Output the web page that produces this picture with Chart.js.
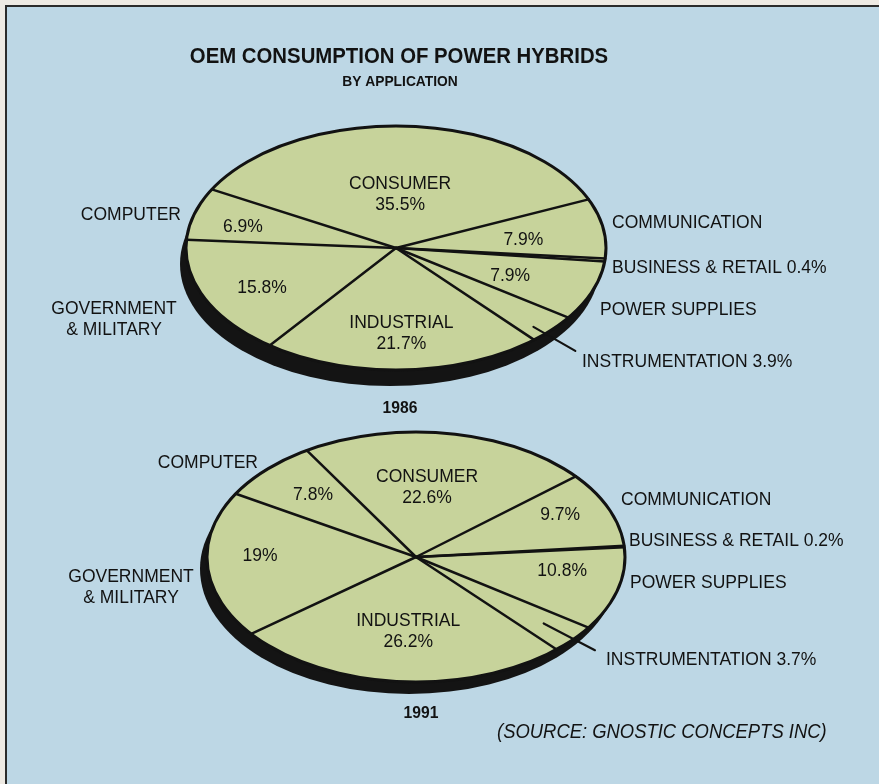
<!DOCTYPE html>
<html>
<head>
<meta charset="utf-8">
<title>OEM Consumption of Power Hybrids</title>
<script src="https://cdn.jsdelivr.net/npm/chart.js@4/dist/chart.umd.min.js"></script>
<style>
  html, body { margin: 0; padding: 0; background: #eeeae3; }
  #page { position: relative; width: 879px; height: 784px; overflow: hidden; }
  #panel {
    position: absolute; left: 5px; top: 5px; right: 0; bottom: 0;
    background: #bdd7e5;
    border-top: 2px solid #2b2b2b; border-left: 2px solid #2b2b2b;
  }
  canvas { position: absolute; left: 0; top: 0; }
</style>
</head>
<body>
<div id="page">
  <div id="panel"></div>
  <canvas id="pie1986" width="879" height="784"></canvas>
  <canvas id="pie1991" width="879" height="784"></canvas>
</div>
<script>
// Market segments, clockwise from the top
const categories = ['CONSUMER', 'COMMUNICATION', 'BUSINESS & RETAIL', 'POWER SUPPLIES',
                    'INSTRUMENTATION', 'INDUSTRIAL', 'GOVERNMENT & MILITARY', 'COMPUTER'];
// Share of OEM consumption, percent
const share1986 = [35.5, 7.9, 0.4, 7.9, 3.9, 21.7, 15.8, 6.9];
const share1991 = [22.6, 9.7, 0.2, 10.8, 3.7, 26.2, 19, 7.8];
const years = ['1986', '1991'];

const titleText = 'OEM CONSUMPTION OF POWER HYBRIDS';
const subtitleText = 'BY APPLICATION';
const sourceText = '(SOURCE: GNOSTIC CONCEPTS INC)';

const FONT = "'Liberation Sans', Arial, Helvetica, sans-serif";
const INK = '#121212';
const FACE = '#c7d39b';
const SHADOW = '#141414';

function drawText(ctx, str, x, y, font, align, sx) {
  ctx.save();
  ctx.font = font;
  ctx.fillStyle = INK;
  ctx.textAlign = align || 'center';
  ctx.textBaseline = 'middle';
  ctx.translate(x, y);
  ctx.scale(sx || 1, 1);
  ctx.fillText(str, 0, 0);
  ctx.restore();
}

// Geometry and label placement for each tilted pie
const pies = [
  {
    canvas: 'pie1986', data: share1986, year: years[0],
    cx: 396, cy: 248, rx: 210, ry: 122, rotation: -61.3,
    shadow: { dx: -6, dy: 16 },
    yearPos: { x: 400, y: 408 },
    inside: {
      0: { da: 0, r: 0.434, name: true },
      1: { da: 3, r: 0.61 },
      3: { da: 2.3, r: 0.59 },
      5: { da: 0, r: 0.706, name: true },
      6: { da: -2.6, r: 0.717 },
      7: { da: -3, r: 0.749 }
    },
    outside: [
      { i: 7, lines: ['COMPUTER'], x: 181, y: 215, align: 'right' },
      { i: 6, lines: ['GOVERNMENT', '& MILITARY'], x: 114, y: 309, align: 'center' },
      { i: 1, lines: ['COMMUNICATION'], x: 612, y: 223, align: 'left' },
      { i: 2, value: true, x: 612, y: 268, align: 'left' },
      { i: 3, lines: ['POWER SUPPLIES'], x: 600, y: 310, align: 'left' },
      { i: 4, value: true, x: 582, y: 362, align: 'left', leader: { t: 0.7, r0: 0.92, r1: 1.2 } }
    ]
  },
  {
    canvas: 'pie1991', data: share1991, year: years[1],
    cx: 416, cy: 557, rx: 209, ry: 125, rotation: -31.5,
    shadow: { dx: -7, dy: 12 },
    yearPos: { x: 421, y: 713 },
    inside: {
      0: { da: -3.7, r: 0.555, name: true },
      1: { da: -3.3, r: 0.767 },
      3: { da: -6, r: 0.708 },
      5: { da: -1.3, r: 0.6, name: true },
      6: { da: 4.4, r: 0.746 },
      7: { da: 0.8, r: 0.70 }
    },
    outside: [
      { i: 7, lines: ['COMPUTER'], x: 258, y: 463, align: 'right' },
      { i: 6, lines: ['GOVERNMENT', '& MILITARY'], x: 131, y: 577, align: 'center' },
      { i: 1, lines: ['COMMUNICATION'], x: 621, y: 500, align: 'left' },
      { i: 2, value: true, x: 629, y: 541, align: 'left' },
      { i: 3, lines: ['POWER SUPPLIES'], x: 630, y: 583, align: 'left' },
      { i: 4, value: true, x: 606, y: 660, align: 'left', leader: { t: 0.5, r0: 0.81, r1: 1.135 } }
    ]
  }
];

const LABEL_FONT = '17.5px ' + FONT;
const LINE_GAP = 21;

// Squashes the round pie into an ellipse, adds the dark rim below it,
// then draws the dividers, outline and labels on the flattened shape.
function tiltPlugin(p, withHeader) {
  return {
    id: 'tilt',
    beforeDatasetsDraw(chart) {
      const ctx = chart.ctx;
      const arcs = chart.getDatasetMeta(0).data;
      const cx = arcs[0].x, cy = arcs[0].y, R = arcs[0].outerRadius;
      const k = p.ry / p.rx;
      ctx.save();
      ctx.fillStyle = SHADOW;
      ctx.beginPath();
      ctx.ellipse(cx + p.shadow.dx, cy + p.shadow.dy, R, R * k, 0, 0, Math.PI * 2);
      ctx.fill();
      ctx.translate(cx, cy);
      ctx.scale(1, k);
      ctx.translate(-cx, -cy);
    },
    afterDatasetsDraw(chart) {
      const ctx = chart.ctx;
      ctx.restore();
      const arcs = chart.getDatasetMeta(0).data;
      const cx = arcs[0].x, cy = arcs[0].y, R = arcs[0].outerRadius;
      const k = p.ry / p.rx;
      const pt = (a, f) => [cx + f * R * Math.cos(a), cy + f * R * k * Math.sin(a)];

      ctx.save();
      ctx.strokeStyle = INK;
      ctx.lineWidth = 2.5;
      ctx.lineCap = 'round';
      arcs.forEach(el => {
        const [x, y] = pt(el.startAngle, 1);
        ctx.beginPath();
        ctx.moveTo(cx, cy);
        ctx.lineTo(x, y);
        ctx.stroke();
      });
      ctx.lineWidth = 3;
      ctx.beginPath();
      ctx.ellipse(cx, cy, R, R * k, 0, 0, Math.PI * 2);
      ctx.stroke();

      // labels inside the slices
      Object.keys(p.inside).forEach(key => {
        const i = +key, spec = p.inside[i], el = arcs[i];
        const a = (el.startAngle + el.endAngle) / 2 + spec.da * Math.PI / 180;
        const [x, y] = pt(a, spec.r);
        const pct = p.data[i] + '%';
        if (spec.name) {
          drawText(ctx, categories[i], x, y - LINE_GAP / 2, LABEL_FONT, 'center');
          drawText(ctx, pct, x, y + LINE_GAP / 2, LABEL_FONT, 'center');
        } else {
          drawText(ctx, pct, x, y, LABEL_FONT, 'center');
        }
      });

      // labels outside the pie
      p.outside.forEach(o => {
        const lines = o.value ? [categories[o.i] + ' ' + p.data[o.i] + '%'] : o.lines;
        lines.forEach((s, j) => drawText(ctx, s, o.x, o.y + j * LINE_GAP, LABEL_FONT, o.align));
        if (o.leader) {
          const el = arcs[o.i];
          const a = el.startAngle + o.leader.t * (el.endAngle - el.startAngle);
          const [x0, y0] = pt(a, o.leader.r0);
          const [x1, y1] = pt(a, o.leader.r1);
          ctx.lineWidth = 2.2;
          ctx.beginPath();
          ctx.moveTo(x0, y0);
          ctx.lineTo(x1, y1);
          ctx.stroke();
        }
      });

      drawText(ctx, p.year, p.yearPos.x, p.yearPos.y, 'bold 16.5px ' + FONT, 'center', 0.95);

      if (withHeader) {
        drawText(ctx, titleText, 399, 57, 'bold 22px ' + FONT, 'center', 0.925);
        drawText(ctx, subtitleText, 400, 82, 'bold 15px ' + FONT, 'center', 0.92);
        drawText(ctx, sourceText, 497, 733, 'italic 19.5px ' + FONT, 'left', 0.945);
      }
      ctx.restore();
    }
  };
}

pies.forEach((p, n) => {
  const canvas = document.getElementById(p.canvas);
  new Chart(canvas, {
    type: 'pie',
    data: {
      labels: categories,
      datasets: [{
        data: p.data,
        backgroundColor: FACE,
        borderWidth: 0,
        hoverOffset: 0
      }]
    },
    options: {
      responsive: false,
      animation: false,
      devicePixelRatio: 1,
      rotation: p.rotation,
      radius: p.rx,
      layout: {
        padding: {
          left: p.cx - p.rx,
          right: canvas.width - (p.cx + p.rx),
          top: p.cy - p.rx,
          bottom: canvas.height - (p.cy + p.rx)
        }
      },
      plugins: { legend: { display: false }, tooltip: { enabled: false } },
      events: []
    },
    plugins: [tiltPlugin(p, n === 0)]
  });
});
</script>
</body>
</html>
